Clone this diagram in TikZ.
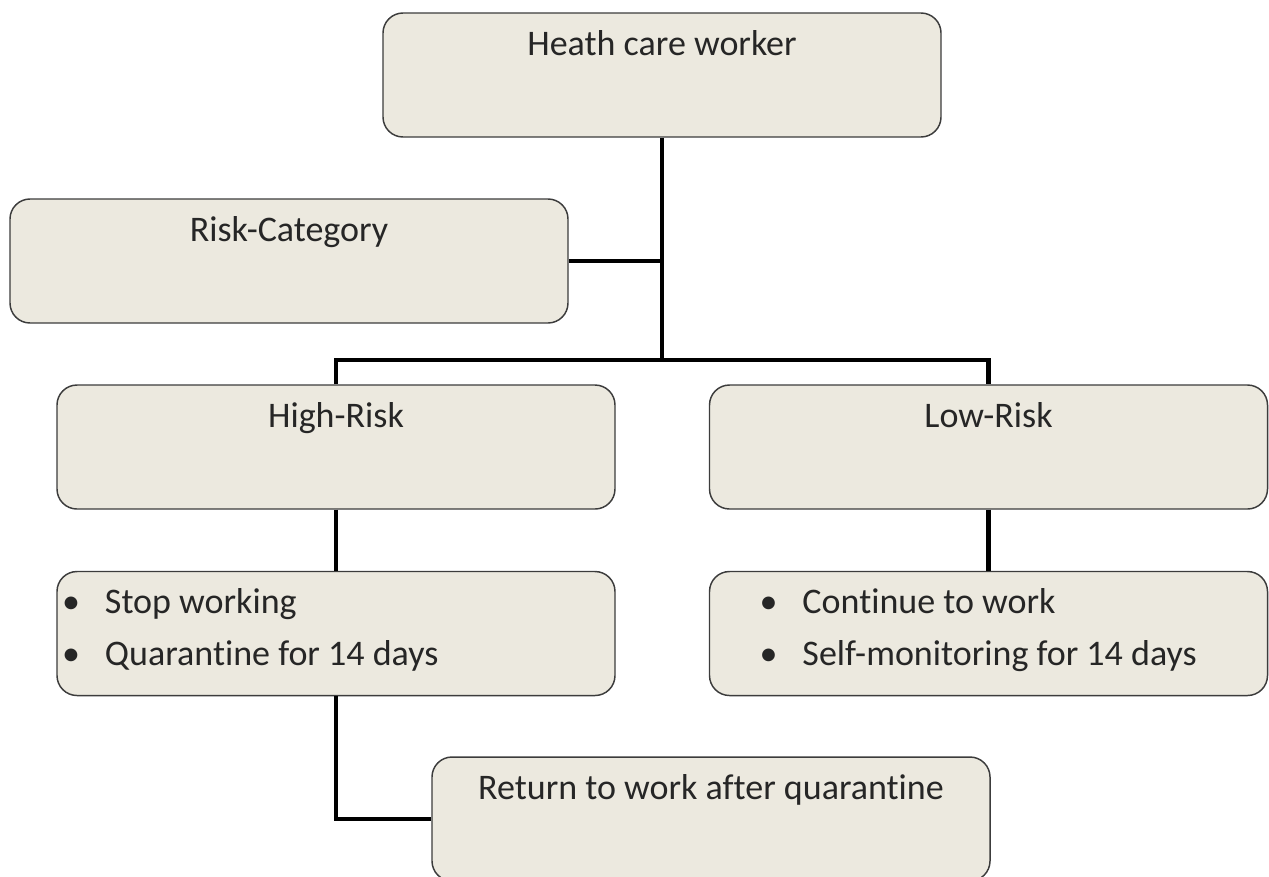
\documentclass[tikz,border=0pt]{standalone}
\usepackage{fontspec}
\setmainfont{Carlito}[Ligatures=NoCommon]
\usepackage{xcolor}
\definecolor{boxFill}{HTML}{ECE9DF}
\definecolor{boxEdge}{HTML}{3C3C3C}
\definecolor{inkText}{HTML}{262626}
\usepackage{tikz}
\usetikzlibrary{positioning,calc}
\tikzset{
    % Base style for all boxes
    chart base/.style={
        font=\fontsize{27}{39}\selectfont,
        text=inkText,
        inner xsep=0pt,
        inner ysep=0pt,
        minimum width=418.5pt,
        minimum height=93pt,
    },
    % Plain box - label sits near the top edge
    topbox/.style={
        chart base,
        rectangle,
        rounded corners=15pt,
        draw=boxEdge,
        line width=1.1pt,
        fill=boxFill,
        align=center,
        text height=31.5pt,
        text depth=61.5pt,
    },
    % Box holding a bullet list
    listbox/.style 2 args={
        topbox,
        align=flush left,
        inner xsep=#1,
        text width=#2,
    },
    % Elbow connector - plain thick black
    link/.style={
        line width=3.5pt,
        draw=black,
    },
}
\newcommand{\hcwitem}[1]{\makebox[32.25pt][l]{\textbullet}#1}

\begin{document}
\begin{tikzpicture}[x=0.75pt, y=-0.75pt]
    \useasboundingbox (0,0) rectangle (1269,876);

    \node (worker) [topbox] at (662,75) {Heath care worker};
    \node (category) [topbox] at (289,261) {Risk-Category};
    \node (high) [topbox] at (336,447) {High-Risk};
    \node (low) [topbox] at (988.5,447) {Low-Risk};
    \node (highact) [listbox={3.75pt}{411pt}] at (336,633.5)
        {\hcwitem{Stop working}\\ \hcwitem{Quarantine for 14 days}};
    \node (lowact) [listbox={37.5pt}{343.5pt}] at (988.5,633.5)
        {\hcwitem{Continue to work}\\ \hcwitem{Self-monitoring for 14 days}};
    \node (return) [topbox] at (711,819) {Return to work after quarantine};
    \coordinate (split) at (662,360);

    \draw [link] (worker) -- (split);
    \draw [link] (category.east) -- (category.east -| split);
    \draw [link] (high.north) |- (split) -| (low.north);
    \draw [link] (high) -- (highact);
    \draw [link] (low) -- (lowact);
    \draw [link] (highact.south) |- (return.west);
\end{tikzpicture}
\end{document}
